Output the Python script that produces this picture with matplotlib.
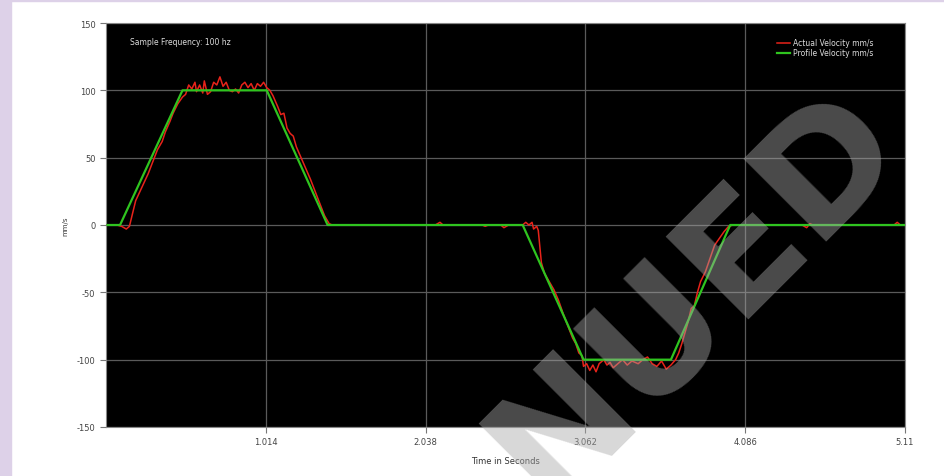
import matplotlib
matplotlib.use('Agg')
import matplotlib.pyplot as plt
from matplotlib.patches import Rectangle

plt.rcParams['axes.unicode_minus'] = False

# profile velocity (mm/s) - corner points of the trapezoid moves
profile_t = [0.0, 0.08, 0.48, 1.02, 1.41, 2.66, 3.05, 3.61, 3.99, 5.11]
profile_v = [0, 0, 100, 100, 0, 0, -100, -100, 0, 0]

# actual velocity (mm/s)
actual_t = [0.00, 0.06, 0.09, 0.12, 0.14, 0.18, 0.22, 0.26, 0.29, 0.32, 0.35, 0.37, 0.40, 0.42,
            0.45, 0.48, 0.50, 0.52, 0.54, 0.56, 0.57, 0.59, 0.61, 0.62, 0.64, 0.66, 0.68, 0.70,
            0.72, 0.74, 0.76, 0.78, 0.80, 0.82, 0.84, 0.86, 0.88, 0.90, 0.92, 0.94, 0.96, 0.98,
            1.00, 1.02, 1.04, 1.06, 1.09, 1.11, 1.13, 1.15, 1.17, 1.19, 1.21, 1.24, 1.27, 1.30,
            1.33, 1.36, 1.39, 1.42, 1.44, 2.10, 2.13, 2.15, 2.40, 2.42, 2.44, 2.52, 2.54, 2.57,
            2.66, 2.68, 2.70, 2.72, 2.73, 2.75, 2.76, 2.78, 2.80, 2.83, 2.86, 2.89, 2.92, 2.95,
            2.98, 3.00, 3.02, 3.04, 3.05, 3.07, 3.09, 3.11, 3.13, 3.15, 3.18, 3.20, 3.22, 3.24,
            3.27, 3.30, 3.33, 3.36, 3.40, 3.43, 3.46, 3.49, 3.52, 3.55, 3.58, 3.61, 3.64, 3.66,
            3.68, 3.70, 3.72, 3.74, 3.76, 3.78, 3.80, 3.83, 3.86, 3.89, 3.92, 3.95, 3.98, 4.01,
            4.45, 4.48, 4.50, 4.52, 5.04, 5.06, 5.08, 5.11]
actual_v = [0, 0, -1, -3, -1, 18, 28, 38, 47, 56, 62, 69, 77, 83,
            90, 95, 97, 104, 101, 106, 99, 104, 98, 107, 97, 99, 106, 104,
            110, 103, 106, 100, 99, 101, 98, 104, 106, 102, 105, 100, 105, 103,
            106, 102, 100, 96, 88, 82, 83, 72, 68, 66, 58, 50, 42, 34,
            25, 16, 7, 1, 0, 0, 2, 0, 0, -1, 0, 0, -2, 0,
            0, 2, 0, 2, -3, -1, -4, -28, -36, -42, -48, -56, -66, -75,
            -84, -88, -95, -97, -105, -103, -108, -104, -109, -103, -100, -104, -102, -106,
            -103, -100, -104, -101, -103, -100, -98, -103, -105, -101, -107, -104, -100, -95,
            -88, -80, -72, -62, -60, -50, -42, -35, -25, -15, -10, -5, -1, 0,
            0, -2, 1, 0, 0, 2, 0, 0]

x_ticks = [1.014, 2.038, 3.062, 4.086, 5.11]
y_ticks = [-150, -100, -50, 0, 50, 100, 150]

fig = plt.figure(figsize=(9.45, 4.77), dpi=100)
fig.patch.set_facecolor('white')

# lavender frame on the left and top
fig.patches.append(Rectangle((0, 0), 11 / 945, 1, transform=fig.transFigure,
                             color='#ddd1e8', zorder=0))
fig.patches.append(Rectangle((0, 1 - 2 / 477), 1, 2 / 477, transform=fig.transFigure,
                             color='#ddd1e8', zorder=0))

ax = fig.add_axes([106 / 945, 49 / 477, 799 / 945, 404 / 477])
ax.set_facecolor('black')

ax.plot(actual_t, actual_v, color='#e8231a', lw=1.1, label='Actual Velocity mm/s', zorder=3)
ax.plot(profile_t, profile_v, color='#2fc41f', lw=1.6, label='Profile Velocity mm/s', zorder=4)

ax.set_xlim(-0.01, 5.11)
ax.set_ylim(-150, 150)
ax.set_xticks(x_ticks)
ax.set_xticklabels(['1.014', '2.038', '3.062', '4.086', '5.11'])
ax.set_yticks(y_ticks)
ax.grid(True, color='#5a5a5a', lw=0.9)
ax.tick_params(colors='#777777', labelcolor='#444444', labelsize=6, length=4, width=0.8)
for s in ax.spines.values():
    s.set_color('#888888')

ax.set_xlabel('Time in Seconds', fontsize=6, color='#333333', labelpad=7)
ax.set_ylabel('mm/s', fontsize=5, color='#333333', labelpad=6)

ax.text(0.03, 0.955, 'Sample Frequency: 100 hz', transform=ax.transAxes,
        color='#dddddd', fontsize=5.5, va='center')

leg = ax.legend(loc='upper right', fontsize=5.5, frameon=False, handlelength=1.8,
                handletextpad=0.4, borderaxespad=0.0, labelspacing=0.15,
                bbox_to_anchor=(0.965, 0.97))
for t in leg.get_texts():
    t.set_color('#dddddd')

# watermark
fig.text(695 / 945, 1 - 295 / 477, 'NUED', fontsize=116, fontweight='bold',
         rotation=45, color='#a8a8a8', alpha=0.45, ha='center', va='center', zorder=10)

fig.savefig('out.png', dpi=100)
